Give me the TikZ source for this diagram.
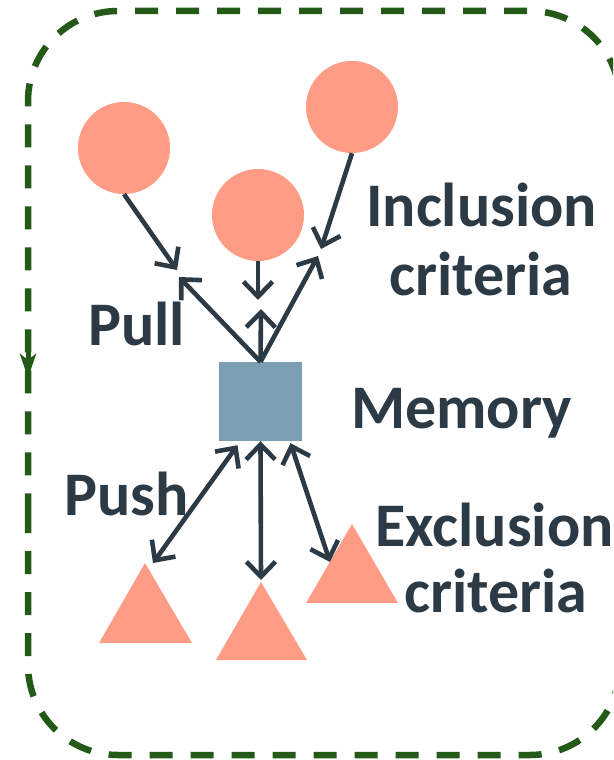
\documentclass[tikz,border=0pt]{standalone}
\usepackage{fontspec}
\setmainfont{Carlito}
\usetikzlibrary{arrows.meta,calc}
\definecolor{frame}{RGB}{35,90,24}
\definecolor{salmon}{RGB}{255,156,133}
\definecolor{memblue}{RGB}{124,158,178}
\definecolor{ink}{RGB}{43,58,69}
\tikzset{
  item/.style={circle,fill=salmon,draw=none,minimum size=92pt,inner sep=0pt},
  store/.style={rectangle,fill=memblue,draw=none,minimum width=83pt,minimum height=79pt,inner sep=0pt},
  tri/.style={fill=salmon,draw=none},
  link/.style={draw=ink,line width=4.6pt,->,>={Straight Barb[length=15pt,width=29pt]}},
  dlink/.style={draw=ink,line width=4.6pt,<->,>={Straight Barb[length=15pt,width=29pt]}},
  label/.style={font=\fontsize{62}{70}\selectfont\bfseries,text=ink,inner sep=0pt,anchor=base west},
  boundary/.style={draw=frame,line width=6.5pt,dash pattern=on 23pt off 18pt,rounded corners=90pt}
}
\begin{document}
\begin{tikzpicture}[x=1pt,y=-1pt]
  \useasboundingbox (0,0) rectangle (613,760);
  \clip (0,0) rectangle (613,760);
  \fill[white] (0,0) rectangle (613,760);

  % dashed boundary with its direction mark on the left side
  \draw[boundary] (28,420) -- (28,755) -- (620,755) -- (620,11) -- (28,11) -- cycle;
  \coordinate (dirA) at (28,345);
  \coordinate (dirB) at (28,378);
  \path[-{Stealth[length=24pt,width=16pt,inset=6pt]},draw=frame,line width=5pt] (dirA) -- (dirB);

  % inclusion items
  \node[item] (c1) at (124,148) {};
  \node[item] (c2) at (258,215) {};
  \node[item] (c3) at (352,107) {};

  % memory
  \node[store] (m) at (260.5,401.5) {};

  % exclusion items
  \fill[tri] (145,563) -- (192,643) -- (99,643) -- cycle;
  \fill[tri] (261,582) -- (307,660) -- (216,660) -- cycle;
  \fill[tri] (352,524) -- (398,603) -- (306,603) -- cycle;

  % meeting points of pull arrows
  \coordinate (p1in)  at (177,270);
  \coordinate (p1out) at (179,277);
  \coordinate (p2in)  at (258,300);
  \coordinate (p2out) at (261,309);
  \coordinate (p3in)  at (321,249);
  \coordinate (p3out) at (318,256);

  % ends of push arrows
  \coordinate (q1) at (153,563);
  \coordinate (q2) at (261,580);
  \coordinate (q3) at (330,562);

  % pull connections
  \draw[link] (c1.south) -- (p1in);
  \draw[link] (m.north) -- (p1out);
  \draw[link] (c2.south) -- (p2in);
  \draw[link] (m.north) -- (p2out);
  \draw[link] (c3.south) -- (p3in);
  \draw[link] (m.north) -- (p3out);

  % push connections
  \draw[dlink] ($(m.south)+(-23,4)$) -- (q1);
  \draw[dlink] (m.south) -- (q2);
  \draw[dlink] ($(m.south)+(30,2)$) -- (q3);

  % labels
  \node[label] (inc1) at (366,226) {Inclusion};
  \node[label] (inc2) at (389,295) {criteria};
  \node[label] (pull) at (88,345) {Pull};
  \node[label] (mem) at (351,428) {Memory};
  \node[label] (push) at (64,515) {Push};
  \node[label] (exc1) at (375,546) {Exclusion};
  \node[label] (exc2) at (404,612) {criteria};
\end{tikzpicture}
\end{document}
